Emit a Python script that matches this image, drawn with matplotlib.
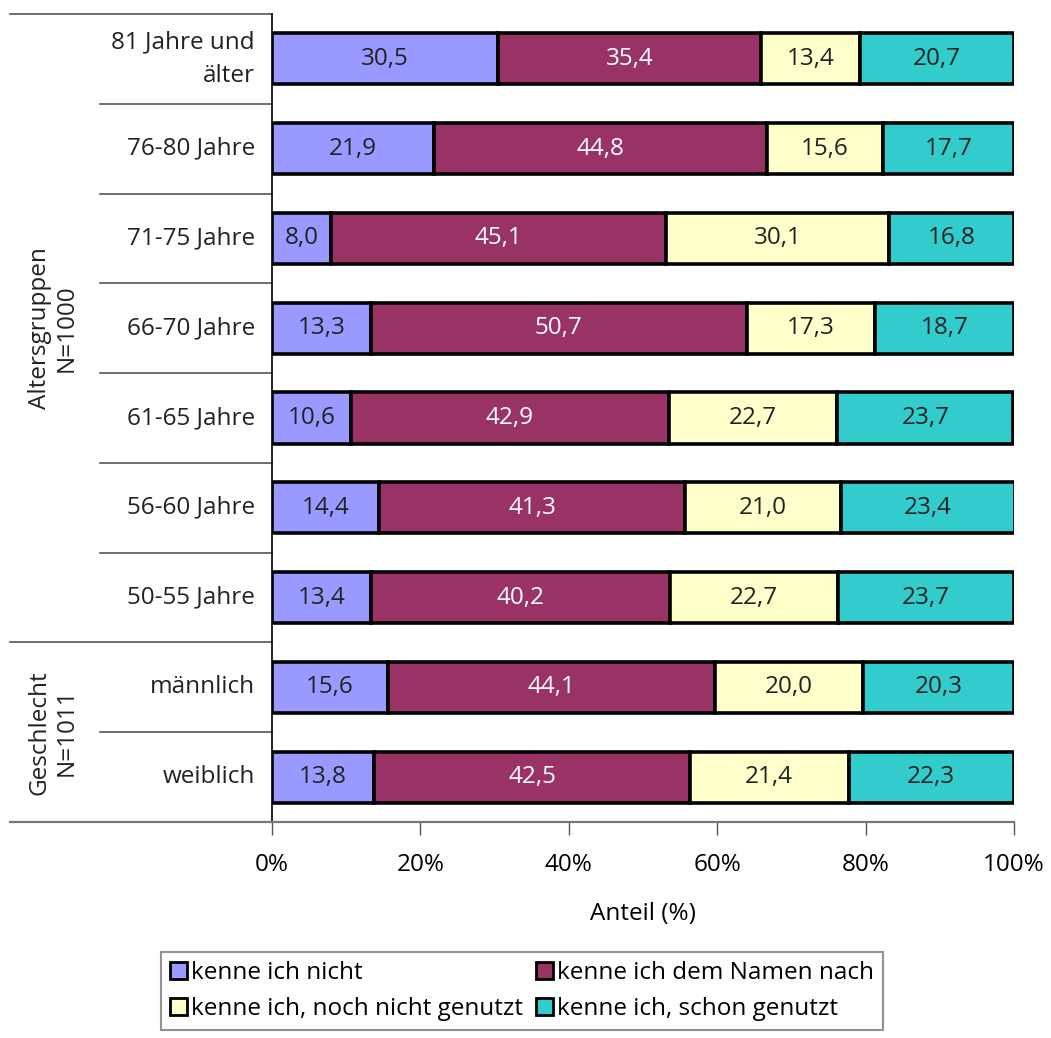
import numpy as np
import matplotlib
matplotlib.use("Agg")
import matplotlib.pyplot as plt
from matplotlib.patches import Patch

plt.rcParams['font.family'] = ['Open Sans', 'DejaVu Sans']

# rows from top to bottom
categories = ["81 Jahre und\nälter", "76-80 Jahre", "71-75 Jahre", "66-70 Jahre",
              "61-65 Jahre", "56-60 Jahre", "50-55 Jahre", "männlich", "weiblich"]
series_names = ["kenne ich nicht", "kenne ich dem Namen nach",
                "kenne ich, noch nicht genutzt", "kenne ich, schon genutzt"]
kenne_nicht = [30.5, 21.9, 8.0, 13.3, 10.6, 14.4, 13.4, 15.6, 13.8]
dem_namen_nach = [35.4, 44.8, 45.1, 50.7, 42.9, 41.3, 40.2, 44.1, 42.5]
nicht_genutzt = [13.4, 15.6, 30.1, 17.3, 22.7, 21.0, 22.7, 20.0, 21.4]
schon_genutzt = [20.7, 17.7, 16.8, 18.7, 23.7, 23.4, 23.7, 20.3, 22.3]
groups = [("Altersgruppen\nN=1000", 0, 6), ("Geschlecht\nN=1011", 7, 8)]
x_ticks = [0, 20, 40, 60, 80, 100]

colors = ["#9999FF", "#993366", "#FFFFCC", "#33CCCC"]
text_colors = ["#222222", "white", "#222222", "#222222"]
fs = 17.5

W, H = 1051, 1038
fig = plt.figure(figsize=(W / 100, H / 100), dpi=100)
ax = fig.add_axes([272 / W, 1 - 822 / H, (1014 - 272) / W, (822 - 14) / H])

data = [kenne_nicht, dem_namen_nach, nicht_genutzt, schon_genutzt]
y = np.arange(len(categories))
left = np.zeros(len(categories))
for vals, name, c, tc in zip(data, series_names, colors, text_colors):
    vals = np.array(vals)
    bars = ax.barh(y, vals, left=left, height=0.57, color=c,
                   edgecolor="black", linewidth=2.6, label=name)
    ax.bar_label(bars, labels=[f"{v:.1f}".replace(".", ",") for v in vals],
                 label_type="center", color=tc, fontsize=fs)
    left += vals

ax.set_xlim(0, 100)
ax.set_ylim(len(categories) - 0.5, -0.5)
ax.set_xticks(x_ticks)
ax.set_xticklabels([f"{t}%" for t in x_ticks], fontsize=fs)
ax.tick_params(axis="x", length=9, width=1, color="#555555", pad=13)
ax.set_yticks([])
ax.set_xlabel("Anteil (%)", fontsize=fs, labelpad=18)
for s in ["top", "right"]:
    ax.spines[s].set_visible(False)
ax.spines["bottom"].set_color("#777777")
ax.spines["bottom"].set_linewidth(1.6)
ax.spines["left"].set_linewidth(1.2)

# category labels and separators on the left
tr = ax.get_yaxis_transform()
x_lab = (255 - 272) / 742
x_in = (100 - 272) / 742
x_out = (10 - 272) / 742
for i, cat in enumerate(categories):
    ax.text(x_lab, i, cat, transform=tr, ha="right", va="center",
            fontsize=fs, color="#222222", linespacing=1.55)
group_edges = {g[1] - 0.5 for g in groups}
for b in np.arange(-0.5, len(categories) - 0.5):
    x0 = x_out if b in group_edges else x_in
    ax.plot([x0, 0], [b, b], transform=tr, color="#555555", lw=1.2,
            clip_on=False)
ax.plot([x_out, 0], [len(categories) - 0.5] * 2, transform=tr,
        color="#777777", lw=1.6, clip_on=False)

for label, a, b in groups:
    ax.text((53 - 272) / 742, (a + b) / 2, label, transform=tr, rotation=90,
            ha="center", va="center", fontsize=fs, color="#222222",
            multialignment="center", linespacing=1.15)

# legend filled row by row
order = [0, 2, 1, 3]
handles = [Patch(facecolor=colors[i], edgecolor="black", linewidth=2)
           for i in order]
leg = fig.legend(handles, [series_names[i] for i in order], loc="center",
                 ncol=2, bbox_to_anchor=(522 / W, 1 - 991 / H), fontsize=fs,
                 frameon=True, fancybox=False, handlelength=0.7,
                 handleheight=0.7, handletextpad=0.2, columnspacing=0.5,
                 borderpad=0.35, labelspacing=0.5, borderaxespad=0)
leg.get_frame().set_edgecolor("#777777")
leg.get_frame().set_linewidth(1.5)

fig.savefig("out.png", dpi=100)
